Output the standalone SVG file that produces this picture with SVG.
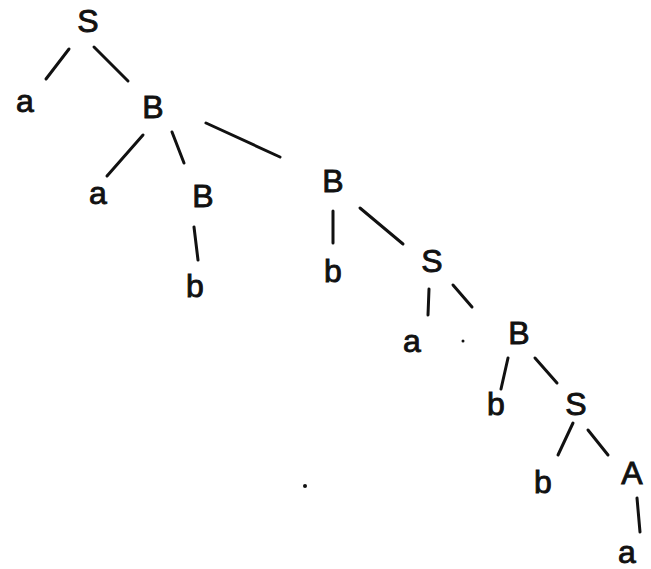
<svg xmlns="http://www.w3.org/2000/svg" width="651" height="569" viewBox="0 0 651 569">
<style>
text{font-family:"Liberation Sans","DejaVu Sans",sans-serif;font-size:32px;fill:#111;stroke:#111;stroke-width:0.9;text-anchor:middle}
.e line{stroke:#111;stroke-width:3;stroke-linecap:round}
</style>
<rect width="651" height="569" fill="#fff"/>
<g class="e" id="edges">
<line x1="69" y1="49" x2="46" y2="79"/>
<line x1="94" y1="47" x2="128" y2="81"/>
<line x1="143" y1="135" x2="107" y2="176"/>
<line x1="172" y1="132" x2="184" y2="163"/>
<line x1="206" y1="123" x2="280" y2="157"/>
<line x1="194" y1="227" x2="198" y2="260"/>
<line x1="333" y1="211" x2="333" y2="243"/>
<line x1="360" y1="208" x2="403" y2="244"/>
<line x1="429" y1="289" x2="428" y2="315"/>
<line x1="453" y1="285" x2="472" y2="307"/>
<line x1="508" y1="358" x2="501" y2="389"/>
<line x1="535" y1="358" x2="557" y2="383"/>
<line x1="573" y1="423" x2="558" y2="455"/>
<line x1="588" y1="430" x2="608" y2="455"/>
<line x1="637" y1="498" x2="640" y2="532"/>
</g>
<g id="n1"><text x="88" y="32">S</text></g>
<g id="n2"><text x="25" y="112">a</text></g>
<g id="n3"><text x="153" y="118">B</text></g>
<g id="n4"><text x="98" y="204">a</text></g>
<g id="n5"><text x="203" y="207">B</text></g>
<g id="n6"><text x="195" y="297">b</text></g>
<g id="n7"><text x="333" y="192">B</text></g>
<g id="n8"><text x="333" y="282">b</text></g>
<g id="n9"><text x="432" y="272">S</text></g>
<g id="n10"><text x="412" y="352">a</text></g>
<g id="n11"><text x="519" y="344">B</text></g>
<g id="n12"><text x="496" y="415">b</text></g>
<g id="n13"><text x="576" y="415">S</text></g>
<g id="n14"><text x="543" y="493">b</text></g>
<g id="n15"><text x="632" y="484">A</text></g>
<g id="n16"><text x="627" y="563">a</text></g>
<circle cx="305" cy="486" r="2" fill="#111"/>
<circle cx="463" cy="341" r="1.5" fill="#111"/>
</svg>
